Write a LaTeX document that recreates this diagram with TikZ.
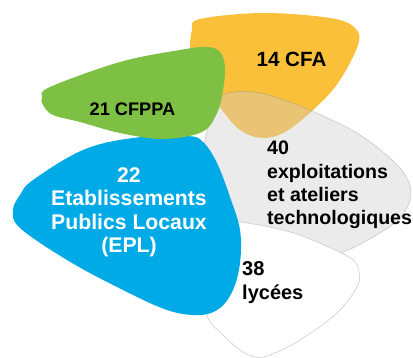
\documentclass[tikz,border=0pt]{standalone}
\usepackage{fontspec}
\setmainfont{Liberation Sans}
\definecolor{cfaorange}{RGB}{251,192,58}
\definecolor{cfppagreen}{RGB}{125,192,67}
\definecolor{eplblue}{RGB}{0,170,230}

\begin{document}
\begin{tikzpicture}[x=1pt,y=-1pt,
    blob/.style={smooth cycle,tension=0.6},
    lbl/.style={inner sep=0pt,font=#1},
    lbl/.default={\fontsize{20}{23.5}\selectfont\bfseries}]
  \useasboundingbox (0,0) rectangle (413,358);
  % orange: CFA
  \fill[cfaorange] plot[blob] coordinates {(192,30) (200,19) (263,13) (330,18)
    (355,28) (358,45) (338,83) (313,110) (285,132) (262,138) (240,130)
    (222,110) (205,85) (191,55)};
  % gray: exploitations
  \filldraw[fill=black!20,fill opacity=0.4,draw=black!45,draw opacity=0.4,line width=0.6pt]
    plot[blob] coordinates {(218,100) (235,92) (260,93) (290,102) (323,116)
    (357,133) (390,158) (408,180) (410,200) (398,220) (368,240) (340,253)
    (300,262) (230,265) (212,240) (203,180) (205,140)};
  % white: lycees
  \filldraw[fill=white,draw=black!22,line width=0.5pt]
    plot[blob] coordinates {(215,222) (240,222) (290,232) (333,249) (353,260)
    (359,272) (357,287) (337,313) (300,340) (270,355) (255,357) (240,350)
    (223,335) (208,318) (203,290) (205,240)};
  % blue: EPL
  \fill[eplblue] plot[blob] coordinates {(13,210) (20,195) (33,180) (83,150)
    (133,138) (187,136) (203,142) (217,163) (230,197) (240,230) (240,263)
    (233,290) (220,308) (200,315) (167,310) (117,287) (67,260) (20,228)};
  % green: CFPPA
  \fill[cfppagreen] plot[blob] coordinates {(42,97) (50,87) (120,62) (180,50)
    (207,47) (220,52) (225,67) (223,90) (217,113) (202,132) (163,139)
    (120,133) (80,122) (53,115) (43,105)};

  \node[lbl={\fontsize{20.6}{24}\selectfont\bfseries}] (cfa) at (291.5,59.5) {14 CFA};
  \node[lbl={\fontsize{18.2}{22}\selectfont\bfseries}] (cfppa) at (132.5,109.5) {21 CFPPA};
  \node[lbl={\fontsize{21.2}{23.5}\selectfont\bfseries},align=center,text=white]
    (epl) at (129,212.5) {22\\Etablissements\\Publics Locaux\\(EPL)};
  \node[lbl={\fontsize{19.6}{23.4}\selectfont\bfseries},align=left,anchor=west]
    (exploit) at (267,185) {40\\exploitations\\et ateliers\\technologiques};
  \node[lbl,align=left,anchor=west] (lycees) at (242,282.5) {38\\lycées};
\end{tikzpicture}
\end{document}
